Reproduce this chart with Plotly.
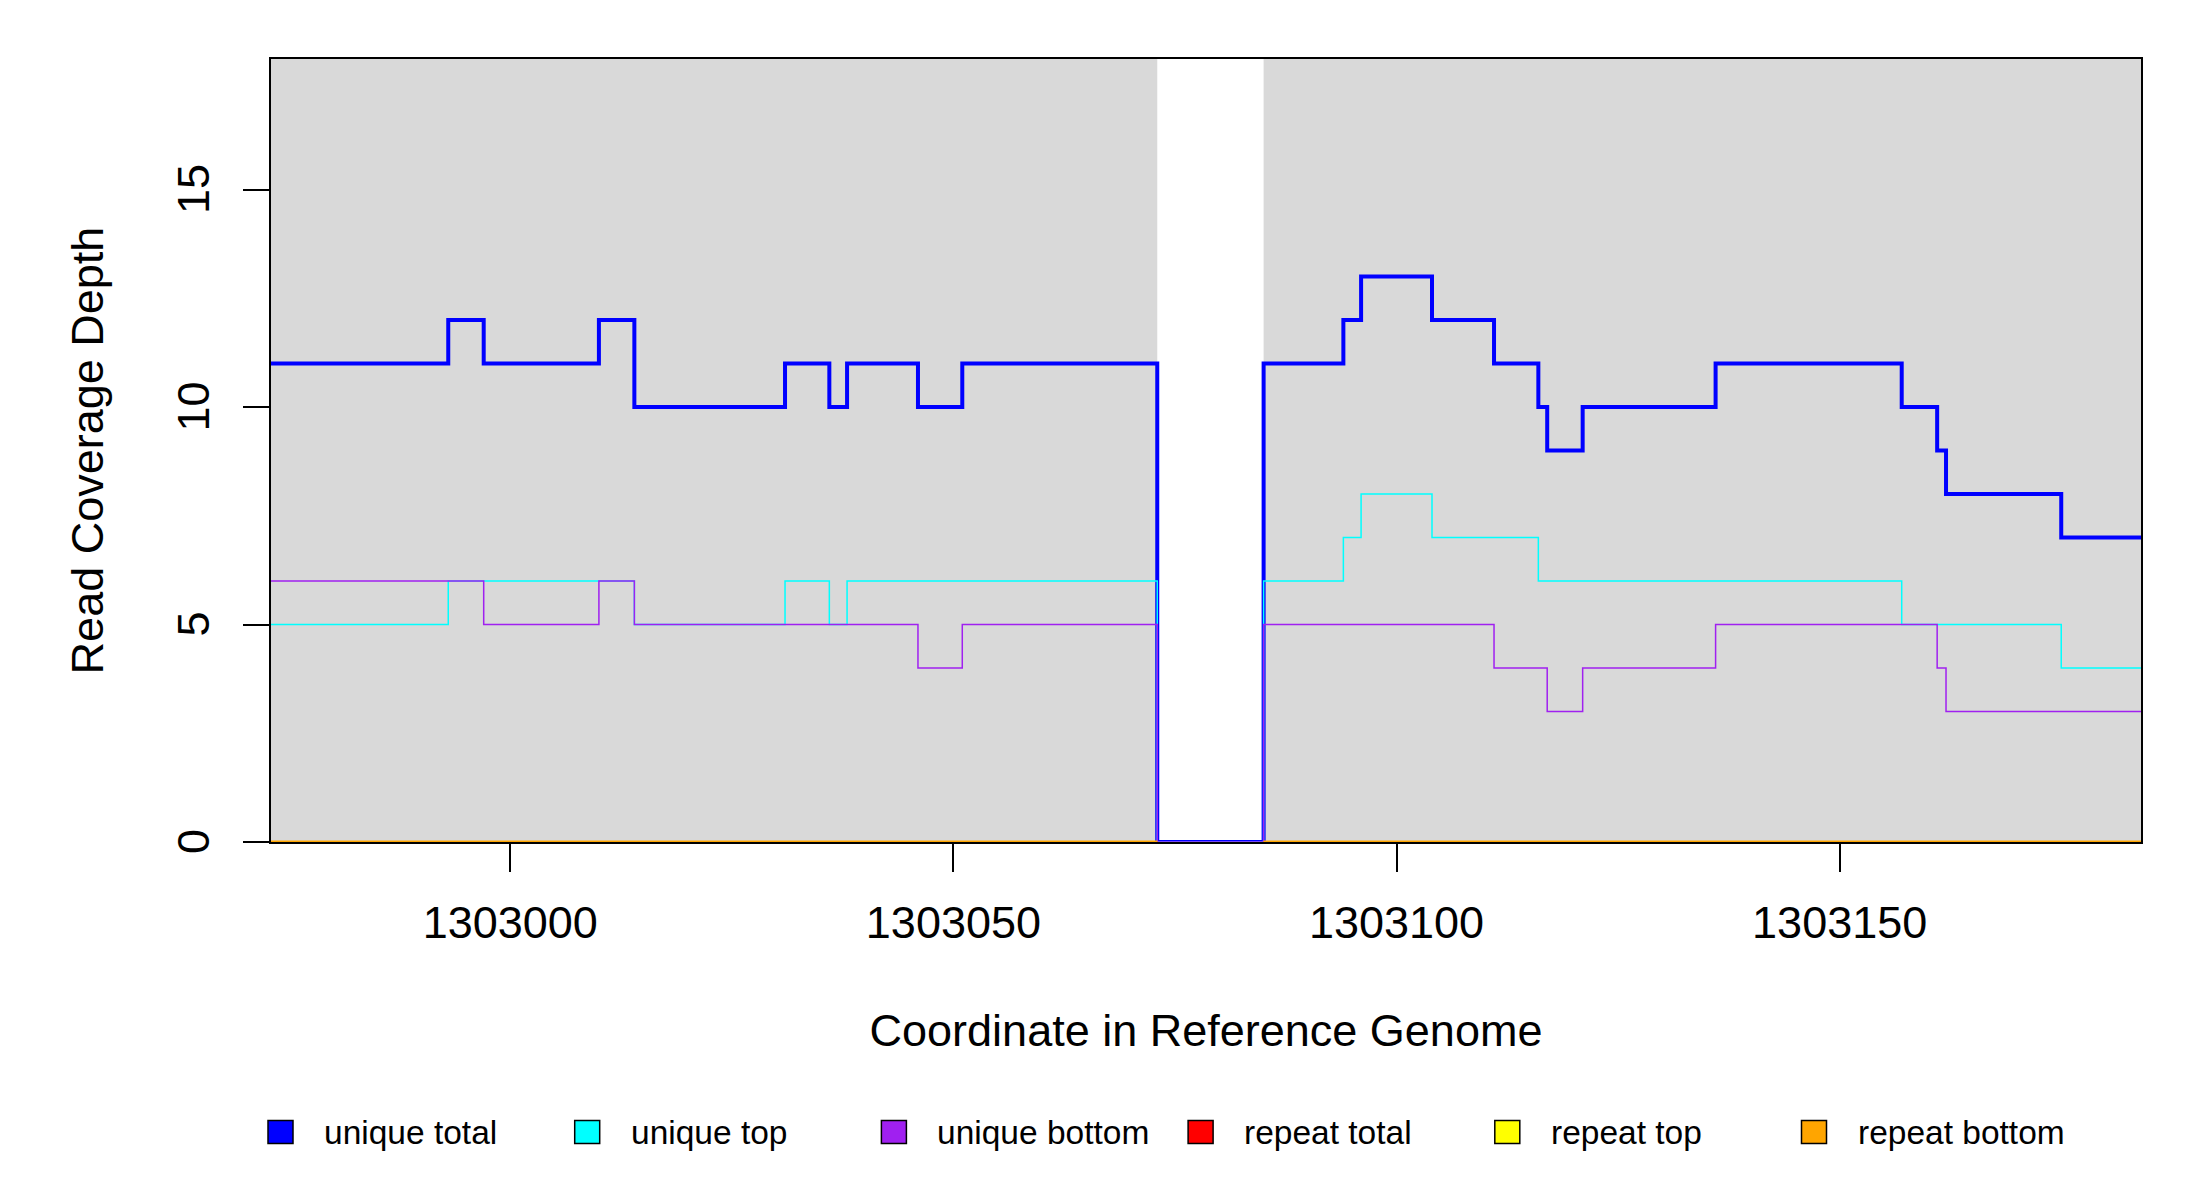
import plotly.graph_objects as go

# coverage segments: each value holds from breaks[i] up to breaks[i + 1]
breaks = [1302973, 1302993, 1302997, 1303010, 1303014, 1303031, 1303036, 1303038,
          1303046, 1303051, 1303073, 1303085, 1303094, 1303096, 1303104, 1303111,
          1303116, 1303117, 1303121, 1303136, 1303157, 1303161, 1303162, 1303175,
          1303184]

unique_total = [11, 12, 11, 12, 10, 11, 10, 11, 10, 11, 0, 11,
                12, 13, 12, 11, 10, 9, 10, 11, 10, 9, 8, 7]
unique_top = [5, 6, 6, 6, 5, 6, 5, 6, 6, 6, 0, 6,
              7, 8, 7, 7, 6, 6, 6, 6, 5, 5, 5, 4]
unique_bottom = [6, 6, 5, 6, 5, 5, 5, 5, 4, 5, 0, 5,
                 5, 5, 5, 4, 4, 3, 4, 5, 5, 4, 3, 3]
repeat_total = [0, 0, 0, 0, 0, 0, 0, 0, 0, 0, None, 0,
                0, 0, 0, 0, 0, 0, 0, 0, 0, 0, 0, 0]
repeat_top = [0, 0, 0, 0, 0, 0, 0, 0, 0, 0, None, 0,
              0, 0, 0, 0, 0, 0, 0, 0, 0, 0, 0, 0]
repeat_bottom = [0, 0, 0, 0, 0, 0, 0, 0, 0, 0, None, 0,
                 0, 0, 0, 0, 0, 0, 0, 0, 0, 0, 0, 0]

# stretches of the reference that have reads (grey background)
covered = [(1302973, 1303073), (1303085, 1303184)]

x_ticks = [1303000, 1303050, 1303100, 1303150]
y_ticks = [0, 5, 10, 15]

series = [
    ("unique total", unique_total, "#0000FF", 4),
    ("unique top", unique_top, "#00FFFF", 1.5),
    ("unique bottom", unique_bottom, "#A020F0", 1.5),
    ("repeat total", repeat_total, "#FF0000", 1.5),
    ("repeat top", repeat_top, "#FFFF00", 1.5),
    ("repeat bottom", repeat_bottom, "#FFA500", 3),
]

W, H = 2200, 1200
PAGE = 8  # body margin of the html page
L, R, T, B = 271 - PAGE, 59 + PAGE, 59 - PAGE, 358 + PAGE
PW, PH = W - L - R, H - T - B
FONT = "Liberation Sans, Arial, sans-serif"


def steps(values):
    xs, ys = [], []
    for i, v in enumerate(values):
        xs += [breaks[i], breaks[i + 1]]
        ys += [v, v]
    return xs, ys


fig = go.Figure()
for name, vals, color, width in series:
    xs, ys = steps(vals)
    fig.add_trace(go.Scatter(x=xs, y=ys, mode="lines", name=name, showlegend=False,
                             line=dict(color=color, width=width, shape="hv")))

for x0, x1 in covered:
    fig.add_shape(type="rect", xref="x", yref="paper", x0=x0, x1=x1, y0=0, y1=1,
                  fillcolor="#D9D9D9", line_width=0, layer="below")

# legend drawn by hand: filled boxes with labels in one row under the plot
bottom_px = 842  # plot bottom in screen pixels
for i, (name, vals, color, width) in enumerate(series):
    left = 268 + 306.7 * i
    cy = 1132
    fig.add_shape(type="rect", xref="paper", yref="paper",
                  x0=(left - PAGE - L) / PW, x1=(left + 25 - PAGE - L) / PW,
                  y0=(bottom_px - cy - 11.5) / PH, y1=(bottom_px - cy + 11.5) / PH,
                  fillcolor=color, line=dict(color="black", width=1.5))
    fig.add_annotation(xref="paper", yref="paper", x=(left + 54 - PAGE - L) / PW,
                       y=(bottom_px - cy) / PH, text=name, showarrow=False,
                       xanchor="left", yanchor="middle",
                       font=dict(size=33.5, color="black", family=FONT))

fig.update_layout(
    width=W, height=H,
    margin=dict(l=L, r=R, t=T, b=B),
    paper_bgcolor="white", plot_bgcolor="white",
    font=dict(family=FONT, color="black"),
    showlegend=False,
)
fig.update_xaxes(
    range=[breaks[0], breaks[-1]], tickvals=x_ticks, tickformat="d",
    ticks="outside", ticklen=28, tickwidth=1.5, tickcolor="black",
    tickfont=dict(size=45), ticklabelstandoff=12,
    showline=True, mirror=True, linecolor="black", linewidth=1.5,
    showgrid=False, zeroline=False, layer="below traces",
    title=dict(text="Coordinate in Reference Genome", font=dict(size=45), standoff=68),
)
# trailing no-break space nudges the rotated labels onto the tick centre
fig.update_yaxes(
    range=[0, 18], tickvals=y_ticks, ticktext=[f"{v}\u00a0" for v in y_ticks],
    tickangle=-90,
    ticks="outside", ticklen=26, tickwidth=1.5, tickcolor="black",
    tickfont=dict(size=45), ticklabelstandoff=16,
    showline=True, mirror=True, linecolor="black", linewidth=1.5,
    showgrid=False, zeroline=False,
    title=dict(text="Read Coverage Depth", font=dict(size=45), standoff=51),
)

fig.write_html("out.html")
